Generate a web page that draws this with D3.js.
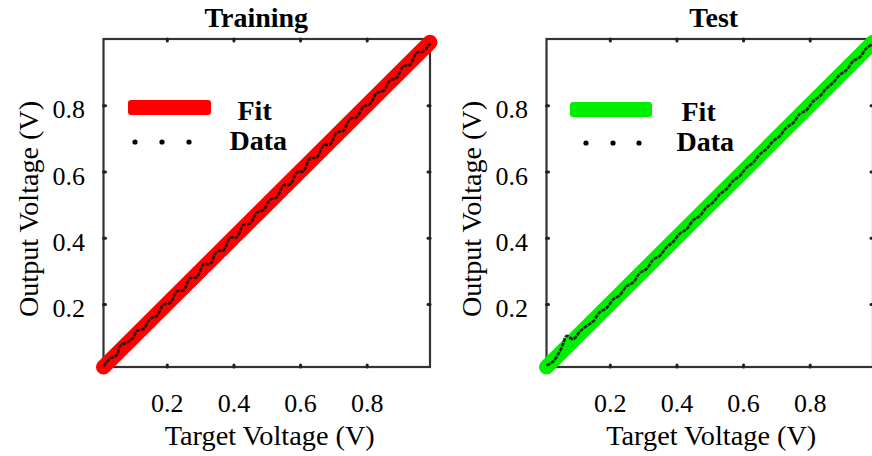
<!DOCTYPE html>
<html>
<head>
<meta charset="utf-8">
<script src="https://cdn.jsdelivr.net/npm/d3@7"></script>
<style>
  body { margin: 0; background: #fff; }
  svg { display: block; font-family: "Liberation Serif", "Times New Roman", serif; }
</style>
</head>
<body>
<script>
// Chart data
const panelTitles = ["Training", "Test"];
const fitColours = ["#ff0000", "#00ee00"];
const tickValues = [0.2, 0.4, 0.6, 0.8];
const tickLabels = ["0.2", "0.4", "0.6", "0.8"];
const legendLabels = ["Fit", "Data"];
const xLabel = "Target Voltage (V)";
const yLabel = "Output Voltage (V)";

// Fit line endpoints (target = output)
const fitValues = [0.01, 0.99];

// Training data
const trainTarget = [0.01, 0.03, 0.05, 0.06, 0.08, 0.10, 0.11, 0.13, 0.15, 0.17, 0.19, 0.21, 0.23, 0.25, 0.27,
  0.29, 0.31, 0.33, 0.35, 0.37, 0.39, 0.41, 0.43, 0.45, 0.47, 0.49, 0.51, 0.53, 0.55, 0.57, 0.59, 0.61,
  0.63, 0.65, 0.67, 0.69, 0.71, 0.73, 0.75, 0.77, 0.79, 0.81, 0.83, 0.85, 0.87, 0.89, 0.91, 0.93, 0.95, 0.97, 0.99];
const trainOutput = [0.012, 0.036, 0.046, 0.074, 0.084, 0.099, 0.119, 0.125, 0.156, 0.164, 0.199, 0.203, 0.238, 0.242, 0.278,
  0.281, 0.320, 0.321, 0.359, 0.362, 0.400, 0.402, 0.439, 0.443, 0.476, 0.484, 0.515, 0.522, 0.558, 0.561, 0.597, 0.601,
  0.640, 0.642, 0.679, 0.682, 0.718, 0.723, 0.759, 0.764, 0.796, 0.804, 0.837, 0.844, 0.875, 0.883, 0.918, 0.922, 0.959, 0.962, 0.988];

// Test data
const testTarget = [0.01, 0.03, 0.05, 0.06, 0.07, 0.09, 0.11, 0.13, 0.15, 0.17, 0.19, 0.21, 0.23, 0.25, 0.27,
  0.29, 0.31, 0.33, 0.35, 0.37, 0.39, 0.41, 0.43, 0.45, 0.47, 0.49, 0.51, 0.53, 0.55, 0.57, 0.59, 0.61,
  0.63, 0.65, 0.67, 0.69, 0.71, 0.73, 0.75, 0.77, 0.79, 0.81, 0.83, 0.85, 0.87, 0.89, 0.91, 0.93, 0.95, 0.97, 0.99];
const testOutput = [0.015, 0.027, 0.058, 0.080, 0.104, 0.094, 0.117, 0.134, 0.148, 0.176, 0.188, 0.214, 0.227, 0.254, 0.265,
  0.294, 0.306, 0.334, 0.346, 0.372, 0.388, 0.413, 0.426, 0.453, 0.466, 0.492, 0.507, 0.532, 0.547, 0.572, 0.587, 0.612,
  0.627, 0.652, 0.668, 0.692, 0.707, 0.733, 0.746, 0.774, 0.785, 0.812, 0.827, 0.851, 0.868, 0.892, 0.906, 0.933, 0.945, 0.972, 0.985];

const dataTargets = [trainTarget, testTarget];
const dataOutputs = [trainOutput, testOutput];

// Layout
const width = 872, height = 456;
const tickFont = 26, labelFont = 28, boldFont = 28;
const panelX = [103.5, 546.5];
const panelY = 39;
const panelW = 326.5, panelH = 328;
const titleShift = [-10.5, 4];
const xLabelShift = [3, 1.5];

// Legend layout per panel, relative to the panel's left edge
const legendLayout = [
  {barX: 24.5, barY: 100, barW: 83, barH: 15, fitX: 134, fitY: 120, dataX: 126, dataY: 150, dots: [31.5, 58.5, 85.5], dotY: 142},
  {barX: 23.5, barY: 102, barW: 82, barH: 15, fitX: 135, fitY: 121, dataX: 130, dataY: 151, dots: [39.5, 66.5, 92.5], dotY: 143}
];

const svg = d3.select("body")
  .append("svg")
  .attr("width", width)
  .attr("height", height);

svg.append("rect")
  .attr("width", width)
  .attr("height", height)
  .attr("fill", "#fff");

panelTitles.forEach((title, i) => {

  const g = svg.append("g")
    .attr("transform", `translate(${panelX[i]}, ${panelY})`);

  // Scales
  const x = d3.scaleLinear().domain([0.01, 0.99]).range([0, panelW]);
  const y = d3.scaleLinear().domain([0.01, 1.0]).range([panelH, 0]);

  // Box
  g.append("rect")
    .attr("width", panelW)
    .attr("height", panelH)
    .attr("fill", "none")
    .attr("stroke", "#333")
    .attr("stroke-width", 2.2);

  // Axes, ticks pointing inward
  const styleAxis = (sel) => {
    sel.select(".domain").remove();
    sel.selectAll(".tick line")
      .attr("stroke", "#222")
      .attr("stroke-width", 3)
      .attr("stroke-linecap", "round");
    sel.selectAll(".tick text")
      .attr("fill", "#000")
      .style("font-size", tickFont + "px")
      .style("font-family", '"Liberation Serif", "Times New Roman", serif');
  };

  g.append("g")
    .attr("transform", `translate(0, ${panelH})`)
    .call(d3.axisBottom(x).tickValues(tickValues).tickFormat((d, k) => tickLabels[k])
      .tickSizeInner(-2).tickSizeOuter(0).tickPadding(27))
    .call(styleAxis);

  g.append("g")
    .call(d3.axisTop(x).tickValues(tickValues).tickFormat("")
      .tickSizeInner(-2).tickSizeOuter(0))
    .call(styleAxis);

  const left = g.append("g")
    .call(d3.axisLeft(y).tickValues(tickValues).tickFormat((d, k) => tickLabels[k])
      .tickSizeInner(-2).tickSizeOuter(0).tickPadding(18.5))
    .call(styleAxis);
  left.selectAll(".tick text").attr("dy", "0.48em");

  g.append("g")
    .attr("transform", `translate(${panelW}, 0)`)
    .call(d3.axisRight(y).tickValues(tickValues).tickFormat("")
      .tickSizeInner(-2).tickSizeOuter(0))
    .call(styleAxis);

  // Fit line
  g.append("path")
    .datum(fitValues)
    .attr("fill", "none")
    .attr("stroke", fitColours[i])
    .attr("stroke-width", 15)
    .attr("stroke-linecap", "round")
    .attr("d", d3.line()
      .x((d) => x(d))
      .y((d) => y(d))
    );

  // Data
  const pts = dataTargets[i].map((t, k) => ({x: t, y: dataOutputs[i][k]}));
  g.append("path")
    .datum(pts)
    .attr("fill", "none")
    .attr("stroke", "#111")
    .attr("stroke-width", 2.6)
    .attr("stroke-opacity", 0.9)
    .attr("stroke-dasharray", "4,1")
    .attr("d", d3.line()
      .x((d) => x(d.x))
      .y((d) => y(d.y))
      .curve(d3.curveCatmullRom)
    );

  // Title
  svg.append("text")
    .attr("x", panelX[i] + panelW / 2 + titleShift[i])
    .attr("y", 27)
    .attr("text-anchor", "middle")
    .attr("font-weight", "bold")
    .attr("font-size", boldFont)
    .text(title);

  // X axis label
  svg.append("text")
    .attr("x", panelX[i] + panelW / 2 + xLabelShift[i])
    .attr("y", 445)
    .attr("text-anchor", "middle")
    .attr("font-size", labelFont)
    .attr("textLength", 210)
    .attr("lengthAdjust", "spacingAndGlyphs")
    .text(xLabel);

  // Y axis label
  svg.append("text")
    .attr("transform", `translate(${panelX[i] - 66}, ${panelY + 170}) rotate(-90)`)
    .attr("text-anchor", "middle")
    .attr("font-size", labelFont)
    .attr("textLength", 216)
    .attr("lengthAdjust", "spacingAndGlyphs")
    .text(yLabel);

  // Legend
  const L = legendLayout[i];
  const lg = svg.append("g").attr("transform", `translate(${panelX[i]}, 0)`);
  lg.append("rect")
    .attr("x", L.barX)
    .attr("y", L.barY)
    .attr("width", L.barW)
    .attr("height", L.barH)
    .attr("rx", 3)
    .attr("fill", fitColours[i]);
  lg.append("text")
    .attr("x", L.fitX)
    .attr("y", L.fitY)
    .attr("font-weight", "bold")
    .attr("font-size", boldFont)
    .text(legendLabels[0]);
  lg.selectAll("circle")
    .data(L.dots)
    .join("circle")
    .attr("cx", (d) => d)
    .attr("cy", L.dotY)
    .attr("r", 2.6)
    .attr("fill", "#000");
  lg.append("text")
    .attr("x", L.dataX)
    .attr("y", L.dataY)
    .attr("font-weight", "bold")
    .attr("font-size", boldFont)
    .text(legendLabels[1]);
});
</script>
</body>
</html>
